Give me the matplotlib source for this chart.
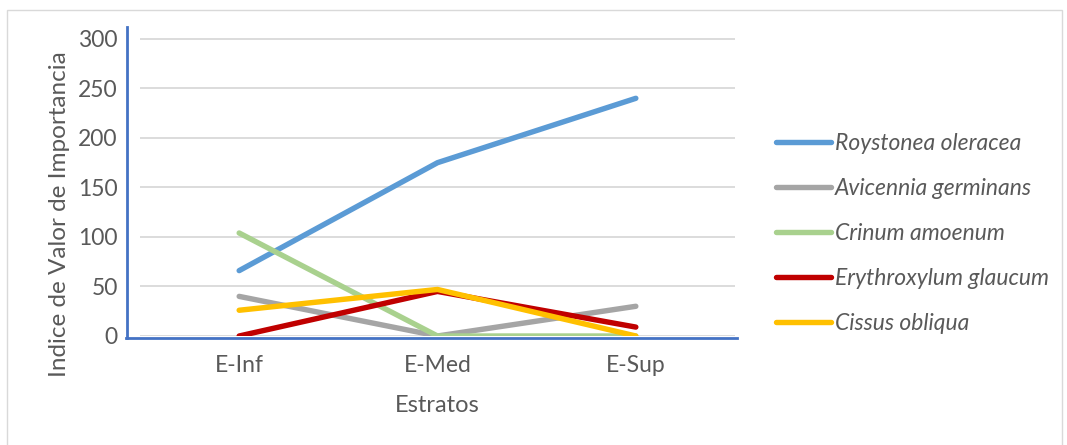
import matplotlib.pyplot as plt
from matplotlib.lines import Line2D
from matplotlib.patches import Rectangle

plt.rcParams['font.family'] = ['Lato', 'DejaVu Sans']

# Data
estratos = ["E-Inf", "E-Med", "E-Sup"]
especies = ["Roystonea oleracea", "Avicennia germinans", "Crinum amoenum",
            "Erythroxylum glaucum", "Cissus obliqua"]
roystonea = [66, 175, 240]
avicennia = [40, 0, 30]
crinum = [104, 0, 0]
erythroxylum = [0, 45, 9]
cissus = [26, 47, 0]
series = [roystonea, avicennia, crinum, erythroxylum, cissus]
colores = ["#5B9BD5", "#A5A5A5", "#A9D18E", "#C00000", "#FFC000"]

W, H = 1067, 445
fig = plt.figure(figsize=(W / 100, H / 100), dpi=100)

# outer chart border
fig.add_artist(Rectangle((7 / W, -0.05), (1062 - 7) / W, (H - 10) / H + 0.05,
                         transform=fig.transFigure, fill=False,
                         edgecolor="#D9D9D9", linewidth=1))

ax = fig.add_axes([140 / W, (H - 336) / H, (735 - 140) / W, 309 / H])

x = range(len(estratos))
for vals, nombre, c in zip(series, especies, colores):
    ax.plot(x, vals, color=c, linewidth=3.9, solid_capstyle="round",
            solid_joinstyle="round", label=nombre)

ax.set_xlim(-0.5, 2.5)
ax.set_ylim(0, 312)
ax.set_yticks(range(0, 301, 50))
ax.grid(axis="y", color="#D9D9D9", linewidth=1.3)
ax.set_axisbelow(True)
for s in ax.spines.values():
    s.set_visible(False)
ax.tick_params(length=0, labelsize=16.5, colors="#595959")
ax.tick_params(axis="y", pad=16)
ax.tick_params(axis="x", pad=14)
ax.set_xticks(list(x))
ax.set_xticklabels(estratos)

# blue axis lines
fig.add_artist(Line2D([127 / W, 127 / W], [(H - 338) / H, (H - 27) / H],
                      transform=fig.transFigure, color="#4472C4", linewidth=2))
fig.add_artist(Line2D([126 / W, 737 / W], [(H - 338) / H, (H - 338) / H],
                      transform=fig.transFigure, color="#4472C4", linewidth=2))

fig.text(60 / W, (H - 214) / H, "Indice de Valor de Importancia", rotation=90,
         ha="center", va="center", fontsize=17.5, color="#595959")
fig.text(437 / W, (H - 406) / H, "Estratos", ha="center", va="center",
         fontsize=17, color="#595959")

leg = fig.legend(loc="upper left", bbox_to_anchor=(755 / W, (H - 112) / H),
                 frameon=False, fontsize=16.5, handlelength=2.4,
                 handletextpad=0.2, labelspacing=1.05)
for t in leg.get_texts():
    t.set_color("#595959")
    t.set_fontstyle("italic")

fig.savefig("out.png", dpi=100)
